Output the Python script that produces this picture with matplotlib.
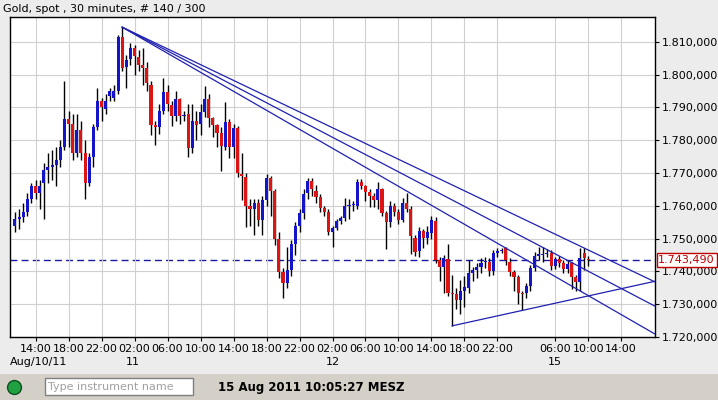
import numpy as np
import matplotlib
matplotlib.use("Agg")
import matplotlib.pyplot as plt
from matplotlib.lines import Line2D
from matplotlib.patches import Rectangle

# 30-minute candles, index 0 = Aug 10 11:30
opens = [1754, 1756, 1756.5, 1758, 1762, 1766, 1764, 1767, 1771, 1772,
         1772.5, 1774, 1778, 1786.5, 1785, 1776, 1783, 1776, 1767, 1775,
         1784, 1792, 1789.5, 1793.5, 1793, 1795, 1811.5, 1802.3, 1804.8, 1808,
         1805.4, 1803, 1802, 1797, 1784.6, 1784, 1789, 1794.7, 1790.7, 1787.4,
         1792.6, 1787.4, 1788, 1777.6, 1785.9, 1784.9, 1788.6, 1792.6, 1786.8, 1784.6,
         1782.2, 1778, 1785.6, 1778, 1783.7, 1769.7, 1768.8, 1760, 1759, 1760.8,
         1755.7, 1761.8, 1768.5, 1764.5, 1749.9, 1739.8, 1736.5, 1740.5, 1748.4, 1753.8,
         1757.8, 1763.9, 1767.6, 1764.5, 1762.7, 1759.3, 1758.1, 1752, 1753.2, 1755.4,
         1756.4, 1760, 1760.3, 1760, 1767.3, 1766, 1764.2, 1763, 1761.8, 1765,
         1757.8, 1755, 1760, 1758.1, 1755.7, 1760.8, 1759, 1750.2, 1746.2, 1752.3,
         1750.2, 1751.7, 1755.5, 1743.5, 1741.3, 1743.8, 1733.4, 1733, 1731.3, 1734,
         1735, 1739.5, 1740.4, 1741.3, 1742.8, 1743, 1740.1, 1745.6, 1746.3, 1747,
         1743, 1739.8, 1738.3, 1733.4, 1733.4, 1735.5, 1741, 1744.7, 1745, 1745.4,
         1745.6, 1741.6, 1743.8, 1742.6, 1740.7, 1742.6, 1738.3, 1736.8, 1745.6, 1743.8]
highs = [1758, 1759, 1761, 1764, 1767, 1768, 1768, 1773, 1776, 1777,
         1778, 1780, 1798, 1789, 1788, 1788, 1786, 1780, 1776, 1785,
         1796, 1793, 1794, 1796, 1797, 1812, 1814.5, 1806, 1809.6, 1809,
         1807.6, 1808, 1804, 1798, 1786, 1791, 1799, 1797, 1792, 1795,
         1793, 1789, 1791, 1791, 1789, 1791, 1796.5, 1794, 1787, 1785,
         1784, 1791.7, 1786.5, 1785, 1784.5, 1776, 1770, 1762, 1762, 1762,
         1763, 1769.8, 1769, 1765, 1752, 1741, 1747.4, 1749.5, 1755, 1759,
         1765, 1768.5, 1768.5, 1766.5, 1763.5, 1760, 1759, 1754, 1756, 1757,
         1762.5, 1762, 1761.5, 1768.3, 1768.3, 1766.5, 1765, 1764, 1767.3, 1765.5,
         1758.5, 1761.5, 1761, 1759, 1762.5, 1763.9, 1760, 1751, 1753.5, 1753,
         1754, 1757, 1756.5, 1744.5, 1745, 1748.5, 1739, 1735, 1737.5, 1738.5,
         1743.5, 1741.5, 1742.5, 1744, 1744.5, 1744, 1746.5, 1747, 1747, 1747.5,
         1744, 1740.5, 1739, 1734, 1736.5, 1742, 1746, 1747.5, 1747.5, 1746.8,
         1746.5, 1744.5, 1744.6, 1743.5, 1743.5, 1743, 1739, 1747, 1747, 1744.6]
lows = [1752, 1753, 1755, 1757, 1761, 1762, 1759, 1756, 1767, 1768,
        1766, 1772, 1777, 1778, 1774, 1775, 1774, 1762, 1766, 1772,
        1783, 1786, 1788, 1792, 1792, 1794, 1801, 1796, 1803, 1800,
        1801, 1797, 1795, 1781.5, 1778.5, 1782, 1788, 1789, 1784.5, 1786,
        1785, 1786, 1774.9, 1776, 1780, 1781.5, 1787, 1784, 1781, 1778,
        1770.6, 1777, 1774.6, 1774.6, 1768.8, 1761.8, 1753.5, 1754, 1751, 1754,
        1751, 1760, 1757, 1748, 1738, 1731.9, 1735, 1738.5, 1745, 1752,
        1756, 1762, 1763, 1761, 1758, 1757, 1751, 1747.4, 1752.5, 1754.5,
        1755.5, 1756, 1758.5, 1759, 1765, 1761.6, 1759.5, 1759.5, 1759, 1757,
        1746.8, 1753.5, 1757, 1754.5, 1755, 1758, 1745.3, 1744.8, 1744.4, 1747,
        1748.5, 1750, 1742.5, 1737, 1733.5, 1732.5, 1723.4, 1728.5, 1727, 1729,
        1733.5, 1737, 1738, 1739.5, 1741, 1738.5, 1739, 1744.5, 1745.5, 1742,
        1738.5, 1734, 1730, 1728.2, 1732, 1734, 1740, 1743.5, 1743, 1744.3,
        1740.5, 1740.8, 1741.2, 1739.5, 1739.5, 1734.5, 1734, 1734, 1740.5, 1741.8]
closes = [1756, 1756.5, 1758, 1762, 1766, 1764, 1766, 1771, 1772, 1772.5,
          1774, 1778, 1786.5, 1785, 1776, 1783, 1776, 1767, 1775, 1784,
          1792, 1790, 1792, 1795, 1795, 1811.5, 1802, 1804.5, 1808, 1805.7,
          1803, 1802, 1797.4, 1784.6, 1784, 1789, 1794.7, 1791, 1787.4, 1792.6,
          1787.4, 1787.8, 1777.6, 1785.9, 1784.6, 1788.6, 1792.6, 1786.8, 1784.6, 1782.2,
          1778.2, 1785.6, 1778, 1783.7, 1770, 1769, 1760, 1759, 1760.8, 1755.7,
          1761.8, 1768.5, 1764.5, 1749.9, 1739.8, 1736.5, 1740.5, 1748.4, 1753.8, 1757.8,
          1763.6, 1767.6, 1765, 1762.7, 1759.3, 1758.1, 1752, 1753.2, 1755.4, 1756.4,
          1760, 1760.3, 1760.5, 1767.3, 1766, 1764.2, 1763, 1761.8, 1765, 1757.8,
          1755, 1760, 1758.1, 1755.7, 1760.8, 1759, 1750.8, 1746, 1752.3, 1750.2,
          1752, 1755.7, 1743.5, 1741.3, 1744, 1733.4, 1733, 1731.3, 1734, 1735.2,
          1739.5, 1740.4, 1741.3, 1742.6, 1743.1, 1740.1, 1745.6, 1746.2, 1746.6, 1743.5,
          1739.8, 1738.3, 1733.4, 1733, 1735.5, 1741, 1744.7, 1745.3, 1745.3, 1745.6,
          1741.6, 1743.8, 1742.6, 1740.7, 1742.3, 1738.3, 1736.8, 1744.1, 1744.1, 1743.5]

time_idx = [5, 13, 21, 29, 37, 45, 53, 61, 69, 77, 85, 93, 101, 109, 117, 131, 139, 147]
time_labels = ["14:00", "18:00", "22:00", "02:00", "06:00", "10:00", "14:00", "18:00", "22:00",
               "02:00", "06:00", "10:00", "14:00", "18:00", "22:00", "06:00", "10:00", "14:00"]
day_idx = [28.5, 77, 131]
day_labels = ["11", "12", "15"]
price_ticks = [1720, 1730, 1740, 1750, 1760, 1770, 1780, 1790, 1800, 1810]
last_price = 1743.49

# drawn trendlines: (candle index, price) pairs
resist_start = (26, 1814.5)
resist_ends = [(155.2, 1736.8), (155.2, 1729.4), (155.2, 1720.9)]
support_line = [(106, 1723.4), (155.2, 1737.0)]

BG = "#ececec"
fig = plt.figure(figsize=(7.18, 4.0), dpi=100, facecolor=BG)
ax = fig.add_axes([10 / 718, 63 / 400, 645 / 718, 320 / 400])
ax.set_facecolor("white")

o = np.array(opens); c = np.array(closes)
x = np.arange(len(o))
up = c >= o
ax.vlines(x, lows, highs, color="black", lw=1, zorder=2)
body = np.maximum(np.abs(c - o), 0.35)
ax.bar(x[up], body[up], bottom=np.minimum(o, c)[up], width=0.75, color="#1414c8", zorder=3)
ax.bar(x[~up], body[~up], bottom=np.minimum(o, c)[~up], width=0.75, color="#dc1414", zorder=3)

for e in resist_ends:
    ax.plot([resist_start[0], e[0]], [resist_start[1], e[1]], color="#2020b0", lw=0.9, zorder=4)
ax.plot([p[0] for p in support_line], [p[1] for p in support_line], color="#2020b0", lw=0.9, zorder=4)
ax.axhline(last_price, color="#1a1aa0", ls=(0, (5, 3)), lw=1, zorder=1)

ax.set_xlim(-1.2, 155.2)
ax.set_ylim(1720, 1817.6)
ax.set_xticks(time_idx)
ax.set_xticklabels(time_labels)
ax.set_yticks(price_ticks)
ax.set_yticklabels([f"1.{p - 1000:03d},000" for p in price_ticks])
ax.yaxis.tick_right()
ax.grid(color="#d0d0d0", lw=0.8, zorder=0)
ax.tick_params(axis="both", labelsize=8, length=3, pad=2)
for s in ax.spines.values():
    s.set_color("black"); s.set_linewidth(1)

for i, lab in zip(day_idx, day_labels):
    ax.text(i, -0.077, lab, transform=ax.get_xaxis_transform(), ha="center", va="center", fontsize=8)
ax.text(0.0, -0.077, "Aug/10/11", transform=ax.transAxes, ha="left", va="center", fontsize=8)

ax.text(1.005, last_price, "1.743,490", transform=ax.get_yaxis_transform(), ha="left", va="center",
        fontsize=8, color="#c00000", zorder=5,
        bbox=dict(boxstyle="square,pad=0.15", fc="white", ec="#c00000", lw=1))

fig.text(3 / 718, 1 - 9 / 400, "Gold, spot , 30 minutes, # 140 / 300", fontsize=8, va="center")

# status bar
fig.add_artist(Rectangle((0, 0), 1, 26 / 400, transform=fig.transFigure, fc="#d4d0c8", ec="none"))
fig.add_artist(Rectangle((45 / 718, 5 / 400), 148 / 718, 17 / 400, transform=fig.transFigure,
                         fc="white", ec="#808080", lw=1))
fig.add_artist(Line2D([14 / 718], [13 / 400], marker="o", ms=10, mfc="#20a040", mec="#0a5020",
                      transform=fig.transFigure))
fig.text(48 / 718, 13 / 400, "Type instrument name", fontsize=8, color="#a0a0a0", va="center")
fig.text(218 / 718, 13 / 400, "15 Aug 2011 10:05:27 MESZ", fontsize=8.5, weight="bold", va="center")

fig.savefig("out.png", dpi=100, facecolor=BG)
